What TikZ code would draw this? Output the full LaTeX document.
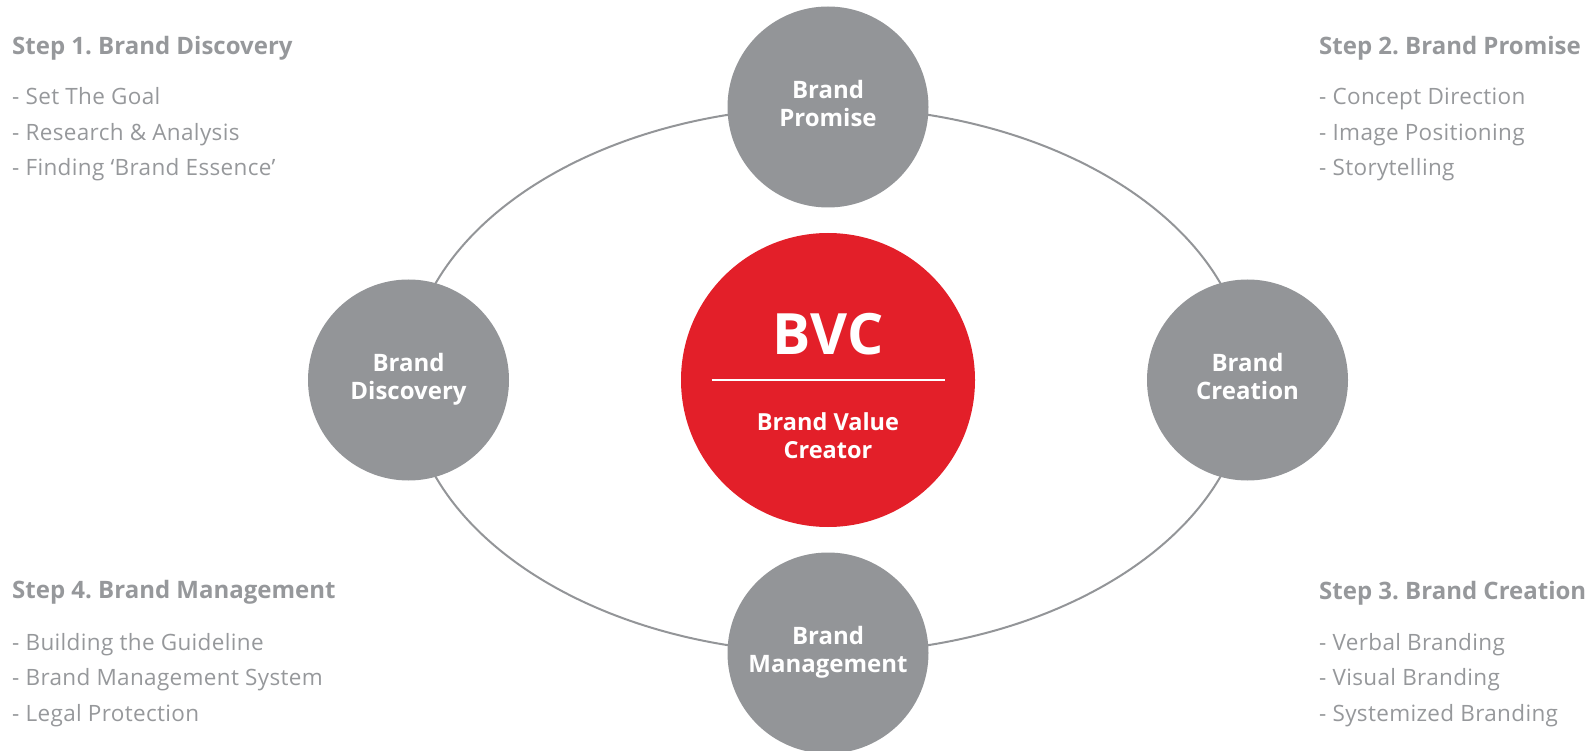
\documentclass[tikz,border=0pt]{standalone}
\usepackage{fontspec}
\setmainfont{Open Sans}
\usepackage{color}
\definecolor{bvcgray}{RGB}{147,149,152}
\definecolor{bvcred}{RGB}{227,31,41}
\definecolor{stepgray}{RGB}{150,152,155}
\frenchspacing

\begin{document}
\begin{tikzpicture}[x=1pt,y=-1pt,
    stage/.style={circle, fill=bvcgray, minimum size=201pt, inner sep=0pt, text=white, align=center, text depth=8pt, font=\bfseries\fontsize{24}{28}\selectfont},
    heading/.style={anchor=base west, text=stepgray, inner sep=0pt, font=\bfseries\fontsize{24}{28}\selectfont},
    % base of a multi-line node is its last line
    points/.style={anchor=base west, text=stepgray, inner sep=0pt, align=left, font=\fontsize{22.5}{35.5}\selectfont\addfontfeature{LetterSpace=1.5}}]

    \useasboundingbox (0,0) rectangle (1591,751);

    % the cycle
    \draw[bvcgray, line width=2pt] (828,380) ellipse [x radius=419.5, y radius=273];

    \node[stage] (promise) at (828,107) {Brand\\Promise};
    \node[stage] (discovery) at (408.5,380) {Brand\\Discovery};
    \node[stage] (creation) at (1247.5,380) {Brand\\Creation};
    \node[stage] (management) at (828,653) {Brand\\Management};

    % centre
    \node[circle, fill=bvcred, minimum size=294pt, inner sep=0pt] (bvc) at (828,380) {};
    \node[anchor=base, text=white, inner sep=0pt, font=\bfseries\fontsize{57}{60}\selectfont] (bvctitle) at (828,355) {BVC};
    \node[anchor=base, text=white, inner sep=0pt, align=center, font=\bfseries\fontsize{23.5}{28}\selectfont] (bvcname) at (828,458) {Brand Value\\Creator};
    \draw[white, line width=1.2pt] ([xshift=-116.5pt]bvc.center) -- ([xshift=116.5pt]bvc.center);

    % steps
    \node[heading] (step1) at (12,55) {Step 1. Brand Discovery};
    \node[points] (list1) at (12,176) {- Set The Goal\\- Research \& Analysis\\- Finding ‘Brand Essence’};

    \node[heading] (step2) at (1319,55) {Step 2. Brand Promise};
    \node[points] (list2) at (1319,176) {- Concept Direction\\- Image Positioning\\- Storytelling};

    \node[heading] (step3) at (1319,599) {Step 3. Brand Creation};
    \node[points] (list3) at (1319,721) {- Verbal Branding\\- Visual Branding\\- Systemized Branding};

    \node[heading] (step4) at (12,598) {Step 4. Brand Management};
    \node[points] (list4) at (12,721) {- Building the Guideline\\- Brand Management System\\- Legal Protection};
\end{tikzpicture}
\end{document}
